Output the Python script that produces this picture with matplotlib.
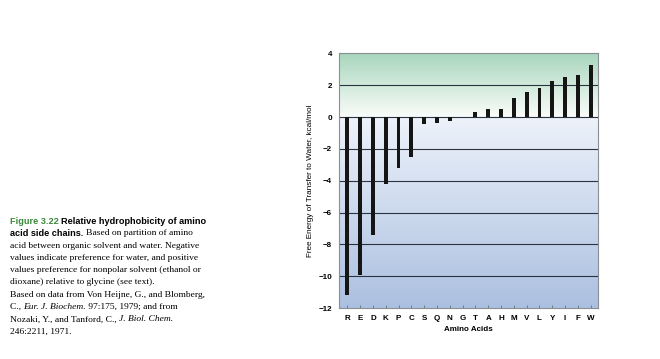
import numpy as np
import matplotlib
matplotlib.use("Agg")
import matplotlib.pyplot as plt

amino = ['R', 'E', 'D', 'K', 'P', 'C', 'S', 'Q', 'N', 'G',
         'T', 'A', 'H', 'M', 'V', 'L', 'Y', 'I', 'F', 'W']
energy = [-11.2, -9.9, -7.4, -4.2, -3.2, -2.5, -0.45, -0.35, -0.25, 0.0,
          0.35, 0.5, 0.5, 1.2, 1.6, 1.85, 2.25, 2.55, 2.65, 3.3]
yticks = [4, 2, 0, -2, -4, -6, -8, -10, -12]

caption = [
    "Based on partition of amino",
    "acid between organic solvent and water. Negative",
    "values indicate preference for water, and positive",
    "values preference for nonpolar solvent (ethanol or",
    "dioxane) relative to glycine (see text).",
    "Based on data from Von Heijne, G., and Blomberg,",
]

fig = plt.figure(figsize=(6.6, 3.59), dpi=100)
ax = fig.add_axes([0.5136, 0.142, 0.3924, 0.709])

x = np.arange(len(amino))
ax.set_xlim(-0.65, len(amino) - 0.43)
ax.set_ylim(-12, 4)

# background: green above zero, blue below
ymin, ymax = -12, 4
ys = np.linspace(ymax, ymin, 400)
cols = np.zeros((400, 1, 3))
green = np.array([0.66, 0.84, 0.74])
white_top = np.array([0.98, 0.99, 0.98])
white_bot = np.array([0.93, 0.95, 0.98])
blue = np.array([0.67, 0.75, 0.88])
for i, yv in enumerate(ys):
    if yv >= 0:
        t = yv / ymax
        cols[i, 0] = white_top * (1 - t) + green * t
    else:
        t = yv / ymin
        cols[i, 0] = white_bot * (1 - t) + blue * t
ax.imshow(cols, aspect='auto', extent=[-0.65, len(amino) - 0.43, ymin, ymax],
          zorder=0, interpolation='bilinear')

for yv in [2, 0, -2, -4, -6, -8, -10]:
    ax.axhline(yv, color='#2b3340', lw=0.8, zorder=1)

ax.bar(x, energy, width=0.3, color='#151515', zorder=2)

for s in ax.spines.values():
    s.set_color('#8a8f95')
    s.set_linewidth(0.8)

ax.set_yticks(yticks)
ax.set_yticklabels([str(v).replace('-', '\u2212') for v in yticks],
                   fontsize=5.8, fontweight='bold', family='Liberation Sans')
ax.tick_params(axis='y', length=0, pad=5)
ax.set_xticks(x)
ax.set_xticklabels(amino, fontsize=5.8, fontweight='bold', family='Liberation Sans')
ax.tick_params(axis='x', direction='in', length=2.5, width=0.6, color='#6a6f75', pad=5)

ax.set_xlabel("Amino Acids", fontsize=5.8, fontweight='bold',
              family='Liberation Sans', labelpad=3)
ax.set_ylabel("Free Energy of Transfer to Water, kcal/mol", fontsize=5.9,
              family='Liberation Sans', labelpad=3)

# caption
lx = 10 / 660
y0 = 1 - 221 / 359
dy = 12.3 / 359
fs = 6.6
sf = 6.8
t1 = fig.text(lx, y0, "Figure 3.22 ", color='#3a8a3a', fontsize=fs,
              fontweight='bold', family='Liberation Sans', va='center')
fig.canvas.draw()
r = fig.canvas.get_renderer()
bb = t1.get_window_extent(r)
fig.text(bb.x1 / 660, y0, "Relative hydrophobicity of amino", fontsize=fs,
         fontweight='bold', family='Liberation Sans', va='center')
t2 = fig.text(lx, y0 - dy, "acid side chains. ", fontsize=fs, fontweight='bold',
              family='Liberation Sans', va='center')
bb = t2.get_window_extent(r)
fig.text(bb.x1 / 660, y0 - dy, caption[0], fontsize=sf,
         family='Liberation Serif', va='center')
for i, line in enumerate(caption[1:]):
    fig.text(lx, y0 - (i + 2) * dy, line, fontsize=sf,
             family='Liberation Serif', va='center')

yy = y0 - 7 * dy
parts = [("C., ", 'normal'), ("Eur. J. Biochem.", 'italic'),
         (" 97:175, 1979; and from", 'normal')]
xx = lx * 660
for txt, st in parts:
    t = fig.text(xx / 660, yy, txt, fontsize=sf, style=st,
                 family='Liberation Serif', va='center')
    xx = t.get_window_extent(r).x1
yy = y0 - 8 * dy
parts = [("Nozaki, Y., and Tanford, C., ", 'normal'), ("J. Biol. Chem.", 'italic')]
xx = lx * 660
for txt, st in parts:
    t = fig.text(xx / 660, yy, txt, fontsize=sf, style=st,
                 family='Liberation Serif', va='center')
    xx = t.get_window_extent(r).x1
fig.text(lx, y0 - 9 * dy, "246:2211, 1971.", fontsize=sf,
         family='Liberation Serif', va='center')

fig.savefig("out.png", dpi=100)
